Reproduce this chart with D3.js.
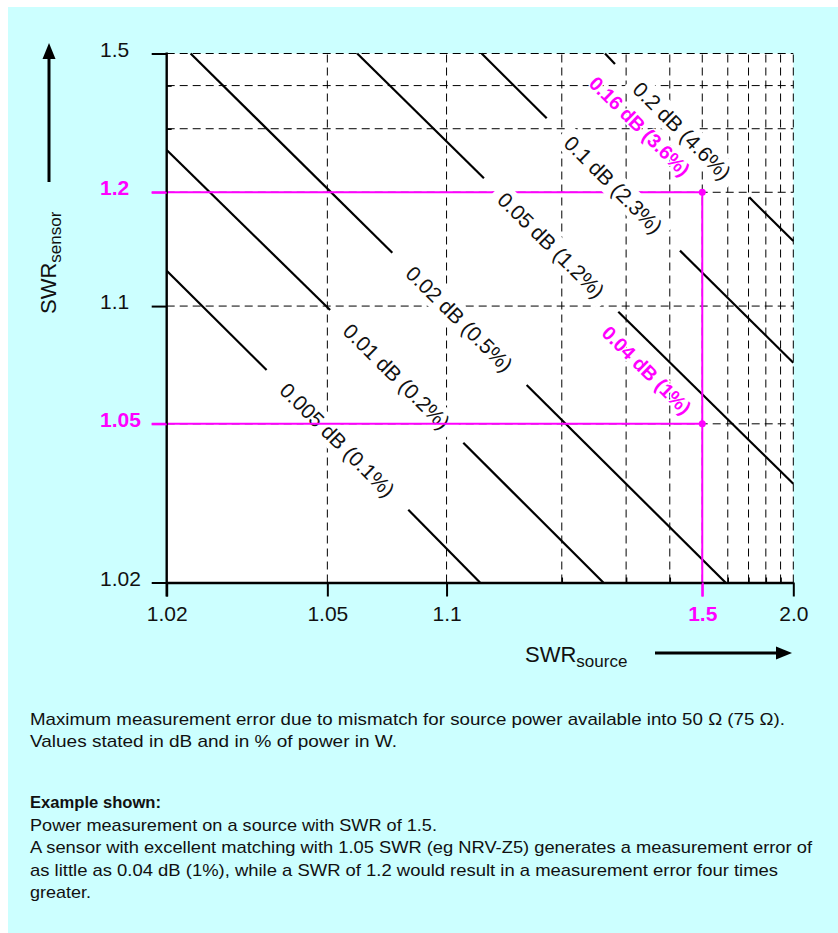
<!DOCTYPE html>
<html><head><meta charset="utf-8">
<script src="https://cdn.jsdelivr.net/npm/d3@7"></script>
<style>
html,body{margin:0;padding:0;background:#fff;}
svg{display:block;}
text{font-family:"Liberation Sans",Arial,sans-serif;fill:#111;}
</style></head><body>
<svg id="chart" width="838" height="933"></svg>
<script>
// ---------------- data ----------------
const xTickValues = [1.02, 1.05, 1.1, 1.5, 2.0];
const xTickLabels = ["1.02", "1.05", "1.1", "1.5", "2.0"];
const xMinorTicks = [1.2, 1.3, 1.4, 1.6, 1.7, 1.8, 1.9];
const xGridValues = [1.05, 1.1, 1.2, 1.3, 1.4, 1.5, 1.6, 1.7, 1.8, 1.9, 2.0];
const yTickValues = [1.02, 1.05, 1.1, 1.2, 1.5];
const yTickLabels = ["1.02", "1.05", "1.1", "1.2", "1.5"];
const yMinorTicks = [1.3, 1.4];
const yGridValues = [1.05, 1.1, 1.2, 1.3, 1.4, 1.5];
const exampleSource = 1.5;
const exampleSensors = [1.05, 1.2];

const contourLabels = ["0.005 dB (0.1%)", "0.01 dB (0.2%)", "0.02 dB (0.5%)",
                       "0.05 dB (1.2%)", "0.1 dB (2.3%)", "0.2 dB (4.6%)"];
// each contour: two segments, points as [SWR source, SWR sensor]
const contourSegments = [
  [[[1.020, 1.1236], [1.0353, 1.0685]], [[1.0799, 1.0304], [1.1219, 1.020]]],
  [[[1.020, 1.2613], [1.0508, 1.0977]], [[1.1104, 1.0448], [1.2593, 1.020]]],
  [[[1.0229, 1.5], [1.0728, 1.1379]], [[1.1613, 1.0627], [1.590, 1.020]]],
  [[[1.0594, 1.5], [1.1248, 1.2183]], [[1.2853, 1.0967], [2.0, 1.0353]]],
  [[[1.1231, 1.5], [1.1823, 1.3212]], [[1.4286, 1.1396], [2.0, 1.0715]]],
  [[[1.2621, 1.5], [1.2793, 1.4641]], [[1.704, 1.1938], [2.0, 1.148]]]
];
const exampleLabels = ["0.04 dB (1%)", "0.16 dB (3.6%)"];
const exampleLabelPoints = [[1.343, 1.0685], [1.328, 1.305]];

const captionLines = [
  "Maximum measurement error due to mismatch for source power available into 50 Ω (75 Ω).",
  "Values stated in dB and in % of power in W.",
  "Example shown:",
  "Power measurement on a source with SWR of 1.5.",
  "A sensor with excellent matching with 1.05 SWR (eg NRV-Z5) generates a measurement error of",
  "as little as 0.04 dB (1%), while a SWR of 1.2 would result in a measurement error four times",
  "greater."
];

// ---------------- layout ----------------
const W = 838, H = 933;
const MAG = "#ff00ff", BG = "#ccffff";
const plot = {left: 166.7, right: 793.3, top: 53.5, bottom: 582.5};
const captionLayout = [
  {y: 725, end: 785, bold: false},
  {y: 747, end: 397, bold: false},
  {y: 808, end: 161, bold: true},
  {y: 830.5, end: 437, bold: false},
  {y: 853, end: 812, bold: false},
  {y: 875.5, end: 778, bold: false},
  {y: 898, end: 91, bold: false}
];

const gamma = s => (s - 1) / (s + 1);
const xLog = d3.scaleLog().domain([gamma(1.02), gamma(2.0)]).range([plot.left, plot.right]);
const yLog = d3.scaleLog().domain([gamma(1.02), gamma(1.5)]).range([plot.bottom, plot.top]);
const x = s => xLog(gamma(s));
const y = s => yLog(gamma(s));

const svg = d3.select("#chart");

// backgrounds
svg.append("rect").attr("x", 8).attr("y", 7).attr("width", W - 8).attr("height", H - 7).attr("fill", BG);
svg.append("rect").attr("x", x(1.02)).attr("y", y(1.5))
  .attr("width", x(2.0) - x(1.02)).attr("height", y(1.02) - y(1.5)).attr("fill", "#fff");

// grid
const grid = svg.append("g").attr("stroke", "#000").attr("stroke-width", 1).attr("stroke-dasharray", "8,5");
grid.selectAll("line.v").data(xGridValues).join("line").attr("class", "v")
  .attr("x1", d => x(d)).attr("x2", d => x(d)).attr("y1", y(1.02)).attr("y2", y(1.5));
grid.selectAll("line.h").data(yGridValues).join("line").attr("class", "h")
  .attr("y1", d => y(d)).attr("y2", d => y(d)).attr("x1", x(1.02)).attr("x2", x(2.0));

// contour lines
const lineGen = d3.line().x(p => x(p[0])).y(p => y(p[1]));
const cg = svg.append("g");
contourSegments.forEach(segs => {
  cg.selectAll(null).data(segs).join("path")
    .attr("d", lineGen).attr("fill", "none").attr("stroke", "#000").attr("stroke-width", 2.2);
});

// example line at sensor SWR 1.2 (under label masks)
svg.append("line").attr("x1", x(1.02) - 15).attr("x2", x(exampleSource))
  .attr("y1", y(exampleSensors[1])).attr("y2", y(exampleSensors[1]))
  .attr("stroke", MAG).attr("stroke-width", 2);

// contour labels with white masks
const lg = svg.append("g");
contourLabels.forEach((lab, i) => {
  const a = contourSegments[i][0][1], b = contourSegments[i][1][0];
  const p0 = contourSegments[i][0][0], p1 = contourSegments[i][1][1];
  const cx = (x(a[0]) + x(b[0])) / 2, cy = (y(a[1]) + y(b[1])) / 2;
  const ang = Math.atan2(y(p1[1]) - y(p0[1]), x(p1[0]) - x(p0[0])) * 180 / Math.PI;
  const g = lg.append("g").attr("transform", `translate(${cx},${cy}) rotate(${ang})`);
  const r = g.append("rect").attr("fill", "#fff");
  const t = g.append("text").attr("text-anchor", "middle").attr("dy", "0.36em")
    .attr("font-size", 21).text(lab);
  const w = t.node().getComputedTextLength();
  r.attr("x", -w / 2 - 8).attr("width", w + 16).attr("y", -13).attr("height", 26);
});

// example lines on top
svg.append("line").attr("x1", x(1.02) - 15).attr("x2", x(exampleSource))
  .attr("y1", y(exampleSensors[0])).attr("y2", y(exampleSensors[0]))
  .attr("stroke", MAG).attr("stroke-width", 2);
svg.append("line").attr("x1", x(exampleSource)).attr("x2", x(exampleSource))
  .attr("y1", y(exampleSensors[1])).attr("y2", y(1.02) + 14)
  .attr("stroke", MAG).attr("stroke-width", 2);
svg.selectAll("circle.ex").data(exampleSensors).join("circle").attr("class", "ex")
  .attr("cx", x(exampleSource)).attr("cy", d => y(d)).attr("r", 3.5).attr("fill", MAG);

// example labels
exampleLabels.forEach((lab, i) => {
  const p = exampleLabelPoints[i];
  const s = contourSegments[3];
  const ang = Math.atan2(y(s[1][1][1]) - y(s[0][0][1]), x(s[1][1][0]) - x(s[0][0][0])) * 180 / Math.PI;
  svg.append("text").attr("transform", `translate(${x(p[0])},${y(p[1])}) rotate(${ang})`)
    .attr("text-anchor", "middle").attr("dy", "0.36em").attr("font-size", 19.5)
    .attr("font-weight", "bold").style("fill", MAG)
    .attr("stroke", "#fff").attr("stroke-width", 3).attr("paint-order", "stroke").text(lab);
});

// axes
const xAxis = d3.axisBottom(xLog).tickValues(xTickValues.map(gamma))
  .tickFormat((d, i) => xTickLabels[i]).tickSize(14).tickSizeOuter(0);
const gx = svg.append("g").attr("transform", `translate(0,${plot.bottom})`).call(xAxis);
gx.select(".domain").attr("stroke", "#000").attr("stroke-width", 2.4);
gx.selectAll(".tick line").attr("stroke", "#000").attr("stroke-width", 2);
gx.selectAll(".tick text").attr("y", 38).attr("dy", 0).attr("font-size", 21)
  .attr("font-family", null).style("fill", "#111");
gx.selectAll(".tick").filter((d, i) => xTickValues[i] === exampleSource)
  .call(t => { t.select("line").attr("stroke", MAG); t.select("text").style("fill", MAG).attr("font-weight", "bold"); });

const xMinor = d3.axisBottom(xLog).tickValues(xMinorTicks.map(gamma)).tickFormat("").tickSize(-5).tickSizeOuter(0);
const gxm = svg.append("g").attr("transform", `translate(0,${plot.bottom})`).call(xMinor);
gxm.select(".domain").remove();
gxm.selectAll(".tick line").attr("stroke", "#000").attr("stroke-width", 1.5);

const yAxis = d3.axisLeft(yLog).tickValues(yTickValues.map(gamma))
  .tickFormat((d, i) => yTickLabels[i]).tickSize(15).tickSizeOuter(0);
const gy = svg.append("g").attr("transform", `translate(${plot.left},0)`).call(yAxis);
gy.select(".domain").attr("stroke", "#000").attr("stroke-width", 2.4)
  .attr("d", `M0,${plot.top - 1}V${plot.bottom + 14}`);
gy.selectAll(".tick line").attr("stroke", "#000").attr("stroke-width", 2);
gy.selectAll(".tick text").attr("x", 100 - plot.left).attr("dy", 0).attr("y", 2.5)
  .attr("text-anchor", "start").attr("font-size", 21).attr("font-family", null).style("fill", "#111");
gy.selectAll(".tick").filter((d, i) => exampleSensors.includes(yTickValues[i]))
  .call(t => { t.select("line").attr("stroke", MAG); t.select("text").style("fill", MAG).attr("font-weight", "bold"); });

const yMinor = d3.axisLeft(yLog).tickValues(yMinorTicks.map(gamma)).tickFormat("").tickSize(-5).tickSizeOuter(0);
const gym = svg.append("g").attr("transform", `translate(${plot.left},0)`).call(yMinor);
gym.select(".domain").remove();
gym.selectAll(".tick line").attr("stroke", "#000").attr("stroke-width", 1.5);

// axis titles + arrows
const xt = svg.append("text").attr("x", 525).attr("y", 662).attr("font-size", 22);
xt.append("tspan").text("SWR");
xt.append("tspan").attr("font-size", 17).attr("dy", 5).text("source");
svg.append("line").attr("x1", 655).attr("x2", 780).attr("y1", 653).attr("y2", 653)
  .attr("stroke", "#000").attr("stroke-width", 3);
svg.append("path").attr("d", "M792,653 L776,646.5 L776,659.5 Z").attr("fill", "#000");

const yt = svg.append("text").attr("transform", "translate(56,314) rotate(-90)").attr("font-size", 22);
yt.append("tspan").text("SWR");
yt.append("tspan").attr("font-size", 17).attr("dy", 5).text("sensor");
svg.append("line").attr("x1", 49).attr("x2", 49).attr("y1", 182).attr("y2", 56)
  .attr("stroke", "#000").attr("stroke-width", 3);
svg.append("path").attr("d", "M49,43 L42.5,59 L55.5,59 Z").attr("fill", "#000");

// caption
captionLines.forEach((line, i) => {
  const L = captionLayout[i];
  const t = svg.append("text").attr("x", 30).attr("y", L.y).attr("font-size", 17)
    .attr("font-weight", L.bold ? "bold" : null).text(line);
  const w = t.node().getComputedTextLength();
  const target = L.end - 30;
  if (Math.abs(w - target) > 2) t.attr("textLength", target).attr("lengthAdjust", "spacingAndGlyphs");
});
</script>
</body></html>
